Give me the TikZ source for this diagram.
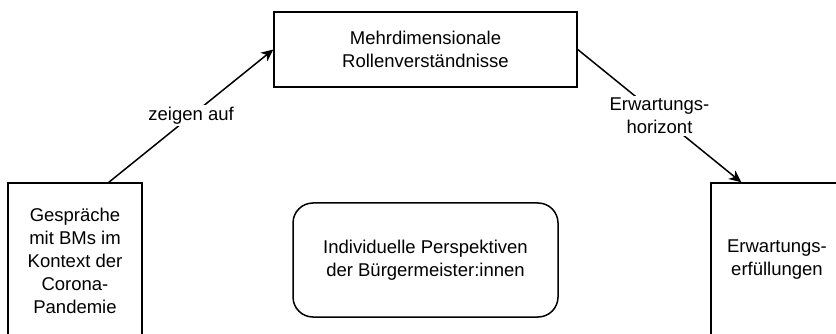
\documentclass[tikz,border=0pt]{standalone}
\usepackage{fontspec}
\setmainfont{Liberation Sans}
\usetikzlibrary{arrows.meta,calc}
\begin{document}
\begin{tikzpicture}[x=1pt,y=-1pt,
  txt/.style={align=center, font=\fontsize{18.5}{23}\selectfont},
  box/.style={txt, draw, line width=1.5pt, inner sep=0pt},
  lbl/.style={txt, fill=white, inner sep=2pt},
  arr/.style={line width=1.5pt, -{Stealth[length=12pt,width=11pt,inset=3.5pt]}}]
\useasboundingbox (0,0) rectangle (836,334);
\fill[white] (0,0) rectangle (836,334);
\begin{scope}
\clip (0,0) rectangle (836,334);
\node[box, minimum width=303pt, minimum height=75pt] (T) at (425.5,49.5) {Mehrdimensionale\\Rollenverständnisse};
\node[box, minimum width=134pt, minimum height=156pt] (L) at (75,261) {Gespräche\\mit BMs im\\Kontext der\\Corona-\\Pandemie};
\node[box, minimum width=160pt, minimum height=156pt] (R) at (791,261) {};
\node[txt] (Rt) at (777,260) {Erwartungs-\\erfüllungen};
\node[box, rounded corners=20pt, minimum width=265pt, minimum height=114pt] (M) at (425.5,260) {Individuelle Perspektiven\\der Bürgermeister:innen};
\draw[arr] ($(L.north west)!0.75!(L.north east)$) -- node[lbl] {zeigen auf} (T.west);
\draw[arr] (T.east) -- node[lbl] {Erwartungs-\\horizont} ($(R.north west)+(31,0)$);
\end{scope}
\end{tikzpicture}
\end{document}
